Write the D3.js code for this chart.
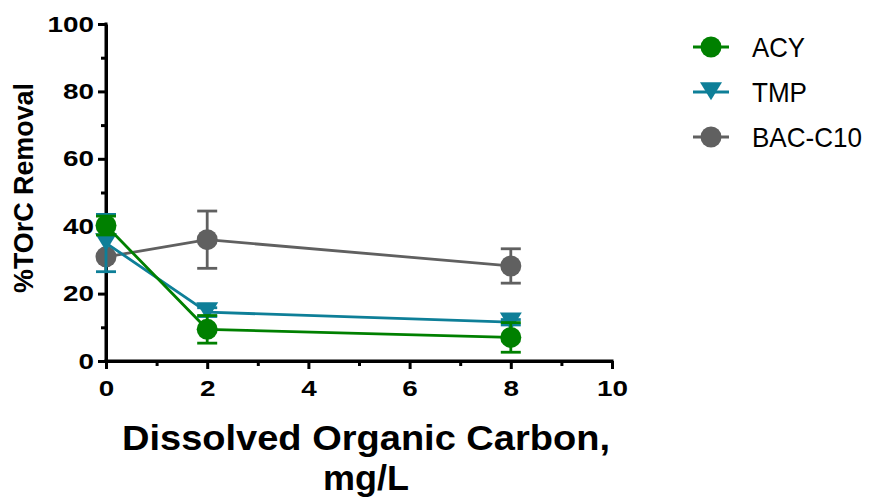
<!DOCTYPE html>
<html>
<head>
<meta charset="utf-8">
<script src="https://cdn.jsdelivr.net/npm/d3@7"></script>
<style>
  body { margin: 0; background: #fff; }
  svg text { font-family: Arial, "Liberation Sans", sans-serif; }
</style>
</head>
<body>
<svg id="chart" width="869" height="497"></svg>
<script>
// values
const doc = [0, 2, 8];
const acy = [40.2, 9.4, 7.0];
const acyErr = [2.8, 4.1, 4.4];
const tmp = [35.0, 14.5, 11.5];
const tmpErr = [8.5, 1.3, 0.8];
const bac = [30.9, 36.0, 28.2];
const bacErr = [0, 8.5, 5.1];
const xTicks = [0, 2, 4, 6, 8, 10];
const yTicks = [0, 20, 40, 60, 80, 100];

const series = [
  { name: 'ACY', values: acy, err: acyErr, color: '#008000', symbol: 'circle' },
  { name: 'TMP', values: tmp, err: tmpErr, color: '#0e7f98', symbol: 'triangle' },
  { name: 'BAC-C10', values: bac, err: bacErr, color: '#606060', symbol: 'circle' }
];
// draw order: gray behind, then teal, then green on top
const drawOrder = [2, 1, 0];

const svg = d3.select('#chart');

const x = d3.scaleLinear().domain([0, 10]).range([106, 612]);
const y = d3.scaleLinear().domain([0, 100]).range([361, 24]);

// the reference glyphs are wider than Arial, so stretch them a bit
function stretch(sel, perChar) {
  sel.each(function () {
    const t = d3.select(this);
    const n = t.text().length;
    if (n) t.attr('textLength', n * perChar).attr('lengthAdjust', 'spacingAndGlyphs');
  });
}

// axes
const xAxis = svg.append('g')
  .attr('transform', `translate(0,${y(0)})`)
  .call(d3.axisBottom(x).tickValues(xTicks).tickSize(8).tickPadding(11).tickSizeOuter(0));
const xMinor = svg.append('g')
  .attr('transform', `translate(0,${y(0)})`)
  .call(d3.axisBottom(x).tickValues(d3.range(1, 10, 2)).tickSize(5).tickFormat('').tickSizeOuter(0));
const yAxis = svg.append('g')
  .attr('transform', `translate(${x(0)},0)`)
  .call(d3.axisLeft(y).tickValues(yTicks).tickSize(8).tickPadding(4).tickSizeOuter(0));
const yMinor = svg.append('g')
  .attr('transform', `translate(${x(0)},0)`)
  .call(d3.axisLeft(y).tickValues(d3.range(10, 100, 20)).tickSize(5).tickFormat('').tickSizeOuter(0));

[xAxis, xMinor, yAxis, yMinor].forEach(g => {
  g.attr('font-size', null).attr('font-family', null);
  g.select('.domain').attr('stroke', '#000').attr('stroke-width', 3);
  g.selectAll('.tick line').attr('stroke', '#000').attr('stroke-width', 3);
  g.selectAll('.tick text')
    .attr('fill', '#000')
    .style('font-size', '22px')
    .style('font-weight', 'bold')
    .call(stretch, 15.5);
});
xAxis.select('.domain').attr('d', `M${x(0) - 1.5},0H${x(10) + 1.5}`);
yAxis.select('.domain').attr('d', `M0,${y(100) - 1.5}V${y(0) + 1.5}`);

// axis titles
svg.append('text')
  .attr('transform', `translate(33,188) rotate(-90)`)
  .attr('text-anchor', 'middle')
  .style('font-size', '27px')
  .style('font-weight', 'bold')
  .attr('textLength', 210)
  .attr('lengthAdjust', 'spacingAndGlyphs')
  .text('%TOrC Removal');

svg.append('text')
  .attr('x', 366).attr('y', 450)
  .attr('text-anchor', 'middle')
  .style('font-size', '35px')
  .style('font-weight', 'bold')
  .attr('textLength', 488)
  .attr('lengthAdjust', 'spacingAndGlyphs')
  .text('Dissolved Organic Carbon,');
svg.append('text')
  .attr('x', 366).attr('y', 490)
  .attr('text-anchor', 'middle')
  .style('font-size', '35px')
  .style('font-weight', 'bold')
  .attr('textLength', 86)
  .attr('lengthAdjust', 'spacingAndGlyphs')
  .text('mg/L');

const circleSym = d3.symbol().type(d3.symbolCircle).size(Math.PI * 10.5 * 10.5);
function triPath(w) {
  const h = w * 0.62;
  return `M${-w / 2},${-h * 0.72}L${w / 2},${-h * 0.72}L0,${h * 0.6}Z`;
}

function drawMarker(g, s, cx, cy) {
  if (s.symbol === 'circle') {
    g.append('path').attr('d', circleSym()).attr('transform', `translate(${cx},${cy})`).attr('fill', s.color);
  } else {
    g.append('path').attr('d', triPath(22)).attr('transform', `translate(${cx},${cy})`).attr('fill', s.color);
  }
}

const line = d3.line().x(d => x(d[0])).y(d => y(d[1]));

drawOrder.forEach(i => {
  const s = series[i];
  const g = svg.append('g');
  const pts = doc.map((d, j) => [d, s.values[j]]);
  g.append('path')
    .datum(pts)
    .attr('d', line)
    .attr('fill', 'none')
    .attr('stroke', s.color)
    .attr('stroke-width', 2.8);
  // error bars
  doc.forEach((d, j) => {
    const e = s.err[j];
    if (!e) return;
    const cx = x(d);
    const top = y(s.values[j] + e), bot = y(s.values[j] - e);
    g.append('line').attr('x1', cx).attr('x2', cx).attr('y1', top).attr('y2', bot)
      .attr('stroke', s.color).attr('stroke-width', 2.8);
    [top, bot].forEach(yy => {
      g.append('line').attr('x1', cx - 10).attr('x2', cx + 10).attr('y1', yy).attr('y2', yy)
        .attr('stroke', s.color).attr('stroke-width', 2.8);
    });
  });
  doc.forEach((d, j) => drawMarker(g, s, x(d), y(s.values[j])));
});

// legend
const legendY = [47, 92, 137];
const legendW = [53, 55, 110];
series.forEach((s, i) => {
  const g = svg.append('g');
  g.append('line').attr('x1', 693).attr('x2', 729).attr('y1', legendY[i]).attr('y2', legendY[i])
    .attr('stroke', s.color).attr('stroke-width', 2.8);
  drawMarker(g, s, 711, legendY[i]);
  g.append('text')
    .attr('x', 752).attr('y', legendY[i] + 10)
    .style('font-size', '28px')
    .attr('fill', '#000')
    .attr('textLength', legendW[i])
    .attr('lengthAdjust', 'spacingAndGlyphs')
    .text(s.name);
});
</script>
</body>
</html>
